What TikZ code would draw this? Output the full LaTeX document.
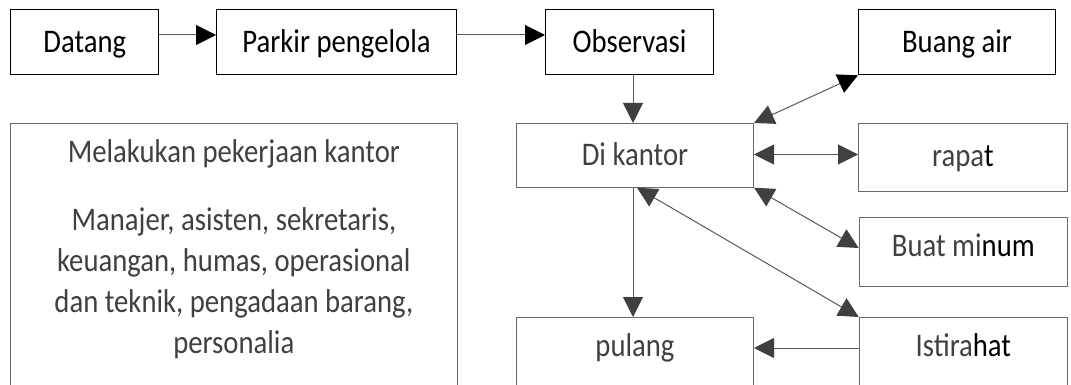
\documentclass[tikz,border=0pt]{standalone}
\usepackage{fontspec}
\setmainfont{Carlito}
\usepackage{graphicx}
\usetikzlibrary{arrows.meta,calc}
\definecolor{txtg}{HTML}{404040}
\definecolor{lng}{HTML}{595959}
\definecolor{bdg}{HTML}{6A6A6A}
\newcommand{\tx}[1]{\scalebox{1}[1.15]{#1}}
\begin{document}
\begin{tikzpicture}[x=1pt,y=-1pt,
  base/.style={draw, line width=1pt, inner sep=0pt, anchor=north west,
    font=\fontsize{28.7}{41}\selectfont},
  topbox/.style={base, draw=black, text=black},
  lowbox/.style={base, draw=bdg, text=txtg},
  conn/.style={draw=lng, line width=1pt},
  tob/.style={conn, -{Triangle[length=20pt,width=20pt,color=black]}},
  tog/.style={conn, -{Triangle[length=20pt,width=20pt,color=txtg]}},
  bothg/.style={conn, {Triangle[length=20pt,width=20pt,color=txtg]}-{Triangle[length=20pt,width=20pt,color=txtg]}},
  gb/.style={conn, {Triangle[length=20pt,width=20pt,color=txtg]}-{Triangle[length=20pt,width=20pt,color=black]}},
]
\useasboundingbox (0,0) rectangle (1071,385);
\clip (0,0) rectangle (1071,385);

% top row
\node[topbox, minimum width=148, text height=42.5, text depth=22.5] (datang) at (10.3,9.3) {\tx{Datang}};
\node[topbox, minimum width=240, text height=42.5, text depth=22.5] (parkir) at (216,9.3) {\tx{Parkir pengelola}};
\node[topbox, minimum width=168, text height=42.5, text depth=22.5] (obs) at (545,9.3) {\tx{Observasi}};
\node[topbox, minimum width=197, text height=42.5, text depth=22.5] (buang) at (858,9.3) {\tx{Buang air}};

% lower boxes
\node[lowbox, minimum width=237, text height=42, text depth=21.7] (kantor) at (516,123) {\tx{Di kantor}};
\node[lowbox, minimum width=209, text height=43.5, text depth=24.5] (rapat) at (858,123) {\tx{rapa{\color{black}t}}};
\node[lowbox, minimum width=208.3, text height=39, text depth=29.4] (minum) at (858.7,217.3) {\tx{Buat mi{\color{black}num}}};
\node[lowbox, minimum width=237, text height=39, text depth=100] (pulang) at (516,317) {\tx{pulang}};
\node[lowbox, minimum width=208.3, text height=39, text depth=100] (istirahat) at (858.7,317) {\tx{Istira{\color{black}hat}}};

\node[lowbox, minimum width=446.7, text height=39, text depth=300] (kerja) at (10,123)
  {\parbox[t]{440pt}{\centering\fontsize{28.7}{41}\selectfont
   \tx{Melakukan pekerjaan kantor}\\[27pt]
   \tx{Manajer, asisten, sekretaris,}\\
   \tx{keuangan, humas, operasional}\\
   \tx{dan teknik, pengadaan barang,}\\
   \tx{personalia}}};

% connectors
\draw[tob] ($(datang.north east)+(0,25.7)$) -- ($(parkir.north west)+(0,25.7)$);
\draw[tob] ($(parkir.north east)+(0,25.7)$) -- ($(obs.north west)+(0,25.7)$);
\draw[tog] ($(obs.south west)+(88,0)$) -- ($(kantor.north west)+(117,0)$);
\draw[gb] (kantor.north east) -- (buang.south west);
\draw[bothg] ($(kantor.north east)+(0,31.5)$) -- ($(rapat.north west)+(0,31.5)$);
\draw[bothg] (kantor.south east) -- ($(minum.north west)+(0,30.7)$);
\draw[bothg] ($(kantor.south west)+(121,0)$) -- (istirahat.north west);
\draw[tog] ($(kantor.south west)+(117,0)$) -- ($(pulang.north west)+(117,0)$);
\draw[tog] ($(istirahat.north west)+(0,31)$) -- ($(pulang.north east)+(0,31)$);
\end{tikzpicture}
\end{document}
